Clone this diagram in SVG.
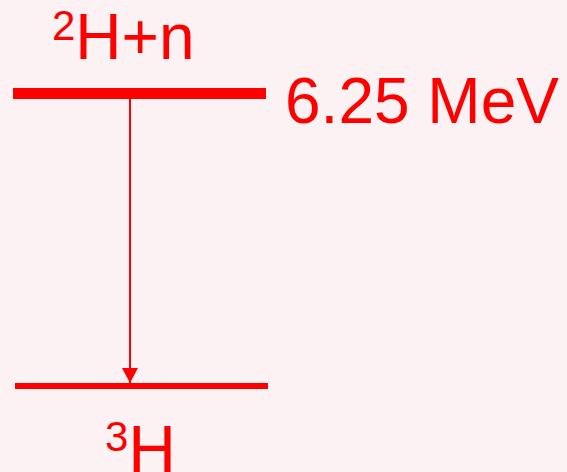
<svg xmlns="http://www.w3.org/2000/svg" width="567" height="472" viewBox="0 0 567 472">
<style>
.t{font-family:"Liberation Sans",Arial,sans-serif;fill:#ff0000}
.lvl{fill:#ff0000}
</style>
<defs>
<marker id="ah" markerWidth="16" markerHeight="16" refX="15" refY="8" orient="auto" markerUnits="userSpaceOnUse">
<path d="M0,0 L15,8 L0,16 Z" fill="#ff0000"/>
</marker>
</defs>
<rect width="567" height="472" fill="#fcf1f3"/>
<g id="level-upper">
<rect class="lvl" x="13" y="88" width="253" height="11"/>
<text class="t" x="52" y="40"><tspan font-size="42">2</tspan><tspan font-size="64" y="59">H+n</tspan></text>
<text class="t" x="285" y="123" font-size="64">6.25 MeV</text>
</g>
<g id="level-lower">
<rect class="lvl" x="15" y="383" width="253" height="6"/>
<text class="t" x="105" y="451"><tspan font-size="42">3</tspan><tspan font-size="66" y="472">H</tspan></text>
</g>
<g id="connectors">
<line x1="130" y1="99" x2="130" y2="383" stroke="#ff0000" stroke-width="2" marker-end="url(#ah)"/>
</g>
</svg>
